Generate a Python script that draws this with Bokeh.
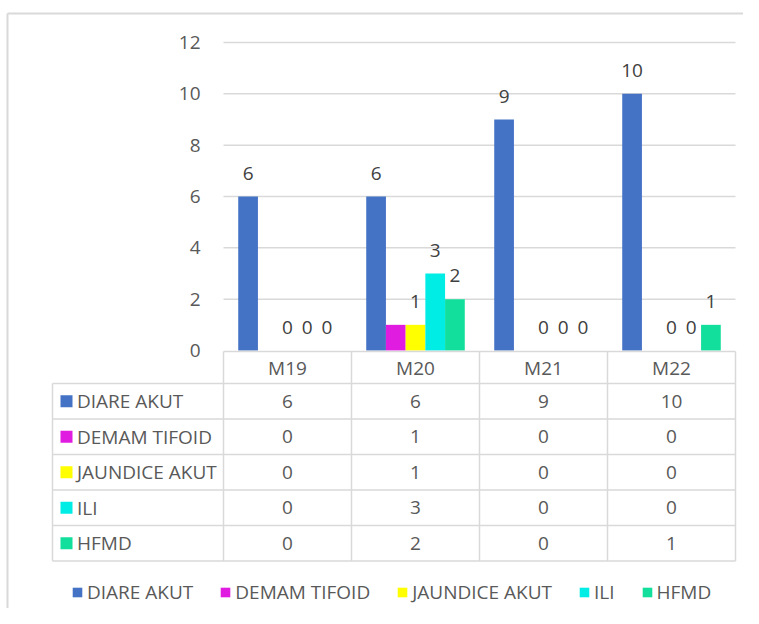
from bokeh.plotting import figure
from bokeh.models import Range1d, ColumnDataSource, Legend, LegendItem
from bokeh.core.properties import value
from bokeh.embed import file_html
from bokeh.resources import INLINE

# ---------------- data ----------------
categories = ["M19", "M20", "M21", "M22"]
series_names = ["DIARE AKUT", "DEMAM TIFOID", "JAUNDICE AKUT", "ILI", "HFMD"]
diare_akut = [6, 6, 9, 10]
demam_tifoid = [0, 1, 0, 0]
jaundice_akut = [0, 1, 0, 0]
ili = [0, 3, 0, 0]
hfmd = [0, 2, 0, 1]
series_values = [diare_akut, demam_tifoid, jaundice_akut, ili, hfmd]
show_data_labels = [True, False, True, True, True]
y_ticks = [0, 2, 4, 6, 8, 10, 12]

colors = ["#4472C4", "#E01CE0", "#FFFF00", "#00EDE6", "#12DF9B"]

# ---------------- layout (pixels) ----------------
W, H = 743, 608
CAT_LEFT, CAT_W = 223, 128          # plot area / table columns
ZERO_Y, TOP_Y = 350, 42             # pixel rows of value 0 and value 12
Y_MAX = 12
PPU = (ZERO_Y - TOP_Y) / Y_MAX
BAR_W = 0.154                       # in category units
TABLE_LEFT = 52
HEADER_TOP, HEADER_H, ROW_H = 351, 32, 35.5
FONT = "Open Sans"
FS = "19px"
GRID = "#D9D9D9"
TXT = "#595959"

p = figure(width=W, height=H, output_backend="svg", toolbar_location=None,
           x_range=Range1d(0, W), y_range=Range1d(H, 0), min_border=0,
           x_axis_location=None, y_axis_location=None)
p.xgrid.visible = False
p.ygrid.visible = False
p.outline_line_color = None
p.background_fill_color = "white"
p.border_fill_color = "white"
p.extra_x_ranges = {"cat": Range1d(-CAT_LEFT / CAT_W, (W - CAT_LEFT) / CAT_W)}
p.extra_y_ranges = {"val": Range1d(-(H - ZERO_Y) / PPU, ZERO_Y / PPU)}

ncat = len(categories)
nser = len(series_names)

# outer chart border
p.segment(x0=[7, 7], y0=[13, 13], x1=[W, 7], y1=[13, H], line_color=GRID, line_width=2)

# gridlines
gt = [t for t in y_ticks if t > 0]
p.segment(x0=[0] * len(gt), x1=[ncat] * len(gt), y0=gt, y1=gt,
          line_color=GRID, line_width=1.5, x_range_name="cat", y_range_name="val")

# y tick labels
p.text(x=[0] * len(y_ticks), y=y_ticks, text=[str(t) for t in y_ticks],
       x_range_name="cat", y_range_name="val", x_offset=-23,
       text_align="right", text_baseline="middle", text_font=value(FONT),
       text_font_size=FS, text_color=TXT)

# bars + data labels
renderers = []
for k, (name, vals, col) in enumerate(zip(series_names, series_values, colors)):
    xs = [i + 0.5 + (k - (nser - 1) / 2) * BAR_W for i in range(ncat)]
    src = ColumnDataSource(dict(x=xs, top=vals, label=[str(v) for v in vals]))
    r = p.vbar(x="x", top="top", bottom=0, width=BAR_W, source=src,
               fill_color=col, line_color=None,
               x_range_name="cat", y_range_name="val")
    renderers.append(r)
    if show_data_labels[k]:
        p.text(x="x", y="top", text="label", source=src,
               x_range_name="cat", y_range_name="val", y_offset=-23.5,
               text_align="center", text_baseline="middle",
               text_font=value(FONT), text_font_size=FS, text_color="#404040")

# ---------------- data table ----------------
col_x = [CAT_LEFT + i * CAT_W for i in range(ncat + 1)]
rows_top = HEADER_TOP + HEADER_H
row_y = [rows_top + j * ROW_H for j in range(nser + 1)]
table_bottom = row_y[-1]

# horizontal lines
p.segment(x0=[col_x[0]], x1=[col_x[-1]], y0=[HEADER_TOP], y1=[HEADER_TOP],
          line_color=GRID, line_width=1.5)
p.segment(x0=[TABLE_LEFT] * len(row_y), x1=[col_x[-1]] * len(row_y),
          y0=row_y, y1=row_y, line_color=GRID, line_width=1.5)
# vertical lines
p.segment(x0=col_x, x1=col_x, y0=[HEADER_TOP] * len(col_x),
          y1=[table_bottom] * len(col_x), line_color=GRID, line_width=1.5)
p.segment(x0=[TABLE_LEFT], x1=[TABLE_LEFT], y0=[rows_top], y1=[table_bottom],
          line_color=GRID, line_width=1.5)

# header
p.text(x=[c + CAT_W / 2 for c in col_x[:-1]], y=[HEADER_TOP + HEADER_H / 2] * ncat,
       text=categories, text_align="center", text_baseline="middle",
       text_font=value(FONT), text_font_size=FS, text_color=TXT)

# row keys + names + values
centers = [rows_top + (j + 0.5) * ROW_H for j in range(nser)]
p.rect(x=[TABLE_LEFT + 14] * nser, y=centers, width=12, height=12,
       fill_color=colors, line_color=None)
p.text(x=[TABLE_LEFT + 24.5] * nser, y=centers, text=series_names,
       text_align="left", text_baseline="middle",
       text_font=value(FONT), text_font_size=FS, text_color=TXT)
for j, vals in enumerate(series_values):
    p.text(x=[c + CAT_W / 2 for c in col_x[:-1]], y=[centers[j]] * ncat,
           text=[str(v) for v in vals], text_align="center", text_baseline="middle",
           text_font=value(FONT), text_font_size=FS, text_color=TXT)

# ---------------- legend ----------------
legend = Legend(items=[LegendItem(label=n, renderers=[r]) for n, r in zip(series_names, renderers)],
                orientation="horizontal", location=(71, 3),
                glyph_width=12, glyph_height=12, label_standoff=4, spacing=26,
                padding=0, margin=0, border_line_color=None, background_fill_alpha=0,
                label_text_font=FONT, label_text_font_size=FS, label_text_color=TXT)
p.add_layout(legend)

open("out.html", "w").write(file_html(p, INLINE))
